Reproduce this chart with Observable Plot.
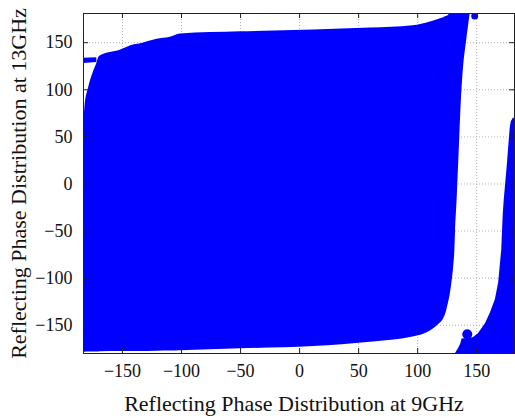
<!DOCTYPE html>
<html>
<head>
<meta charset="utf-8">
<script src="https://cdn.jsdelivr.net/npm/d3@7"></script>
<script src="https://cdn.jsdelivr.net/npm/@observablehq/plot@0.6"></script>
<style>
  html, body { margin: 0; padding: 0; background: #fff; }
</style>
</head>
<body>
<div id="chart"></div>
<script>
// Axis ticks
const xTicks = [-150, -100, -50, 0, 50, 100, 150];
const yTicks = [-150, -100, -50, 0, 50, 100, 150];
const xTitle = "Reflecting Phase Distribution at 9GHz";
const yTitle = "Reflecting Phase Distribution at 13GHz";

// Main dense region: boundary (x, lower y, upper y)
const mainX    = [-183, -181.6, -178.8, -174.6, -171.7, -170, -168.9, -151.9, -140.7, -136.7, -120.8, -109.6, -101, -50, 11.9, 60, 96, 110.8, 118, 122, 124, 126, 127.5, 129, 130.5, 131.5, 132, 133.4, 135, 137, 139, 141, 143.2, 144.5];
const mainLow  = [-178.7, -178.6, -178.5, -178.4, -178.3, -178.3, -178.2, -178, -177.9, -177.8, -177.5, -177.3, -177, -175, -172.5, -168, -162.5, -156, -149, -143, -137, -127, -118, -105, -88, -70, -52, -17, 30, 89, 126, 147.5, 168.8, 181];
const mainHigh = [60, 84, 101.5, 119, 128, 134.5, 136, 142, 147.5, 148.3, 153.6, 155.7, 159.3, 161.5, 163.5, 165.5, 168, 172, 175, 176.5, 177.7, 179, 181, 181, 181, 181, 181, 181, 181, 181, 181, 181, 181, 181];

// Thin stripe at top-left
const stripeX    = [-183, -171.7];
const stripeLow  = [128, 129];
const stripeHigh = [133.5, 134];

// Right-hand region: left boundary as function of y
const rightY    = [-181, -175, -169.8, -164.6, -163.4, -159, -148.5, -137, -122.8, -105, -70, -34, -17, 18, 53.6, 60.6, 66, 69.7];
const rightXmin = [131.5, 134.5, 136.5, 137.6, 147, 151.4, 157.4, 161.6, 165.8, 168.6, 171.2, 172.4, 173.3, 175.8, 178, 178.5, 179.3, 181];
const rightXmax = 182;

// Isolated markers
const topDotX = [148.3], topDotY = [178.3];
const bumpDotX = [142], bumpDotY = [-159.5];

const blue = "#0000ff";
const serif = "'Liberation Serif', 'Times New Roman', serif";
const mainData = mainX.map((x, i) => ({x, lo: mainLow[i], hi: mainHigh[i]}));
const stripeData = stripeX.map((x, i) => ({x, lo: stripeLow[i], hi: stripeHigh[i]}));
const rightData = rightY.map((y, i) => ({y, x1: rightXmin[i], x2: rightXmax}));
const topDot = topDotX.map((x, i) => ({x, y: topDotY[i]}));
const bumpDot = bumpDotX.map((x, i) => ({x, y: bumpDotY[i]}));

const W = 515, H = 418, mL = 83, mR = 1, mT = 13, mB = 65;
const fw = W - mL - mR, fh = H - mT - mB, tk = 5;

const chart = Plot.plot({
  width: W, height: H,
  marginLeft: mL, marginRight: mR, marginTop: mT, marginBottom: mB,
  style: {fontFamily: serif, fontSize: "18px", background: "#fff"},
  x: {domain: [-183, 182]},
  y: {domain: [-180, 181]},
  marks: [
    Plot.gridX(xTicks, {stroke: "#b0b0b0", strokeOpacity: 1, strokeDasharray: "1,2"}),
    Plot.gridY(yTicks, {stroke: "#b0b0b0", strokeOpacity: 1, strokeDasharray: "1,2"}),
    Plot.areaY(mainData, {x: "x", y1: "lo", y2: "hi", fill: blue, curve: "monotone-x"}),
    Plot.areaY(stripeData, {x: "x", y1: "lo", y2: "hi", fill: blue}),
    Plot.areaX(rightData, {y: "y", x1: "x1", x2: "x2", fill: blue}),
    Plot.dot(topDot, {x: "x", y: "y", r: 3.5, fill: blue, clip: true}),
    Plot.dot(bumpDot, {x: "x", y: "y", r: 5, fill: blue}),
    // inward tick marks on all four sides
    Plot.ruleX(xTicks, {stroke: "#222", insetTop: fh - tk}),
    Plot.ruleX(xTicks, {stroke: "#222", insetBottom: fh - tk}),
    Plot.ruleY(yTicks, {stroke: "#222", insetLeft: fw - tk}),
    Plot.ruleY(yTicks, {stroke: "#222", insetRight: fw - tk}),
    Plot.frame({stroke: "#222"}),
    Plot.axisX(xTicks, {anchor: "bottom", tickSize: 0, tickPadding: 11, label: null, fontSize: 18, fontFamily: serif, fill: "#111"}),
    Plot.axisY(yTicks, {anchor: "left", tickSize: 0, tickPadding: 11, label: null, fontSize: 18, fontFamily: serif, fill: "#111"}),
    Plot.text([xTitle], {frameAnchor: "bottom", dy: 50, dx: -5, fontSize: 22, fontFamily: serif, textAnchor: "middle", lineAnchor: "middle", fill: "#111"}),
    Plot.text([yTitle], {frameAnchor: "left", dx: -65, rotate: -90, fontSize: 22, fontFamily: serif, textAnchor: "middle", lineAnchor: "middle", fill: "#111"})
  ]
});
document.getElementById("chart").appendChild(chart);
</script>
</body>
</html>
